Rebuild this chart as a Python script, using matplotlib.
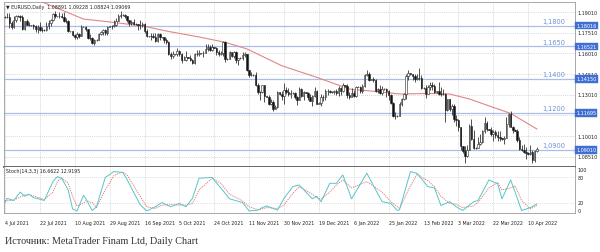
import matplotlib.pyplot as plt
from matplotlib.transforms import blended_transform_factory

# daily EURUSD bars (Sun..Fri), one line = one week
opens = [
    1.1865, 1.1866, 1.1868, 1.1824, 1.1790, 1.1843,
    1.1875, 1.1872, 1.1862, 1.1777, 1.1837, 1.1810,
    1.1806, 1.1805, 1.1800, 1.1780, 1.1795, 1.1771,
    1.1771, 1.1772, 1.1800, 1.1820, 1.1844, 1.1886,
    1.1869, 1.1870, 1.1870, 1.1868, 1.1835, 1.1833,
    1.1762, 1.1760, 1.1735, 1.1718, 1.1740, 1.1730,
    1.1795, 1.1793, 1.1778, 1.1710, 1.1711, 1.1675,
    1.1698, 1.1700, 1.1745, 1.1755, 1.1772, 1.1750,
    1.1795, 1.1797, 1.1797, 1.1807, 1.1838, 1.1875,
    1.1880, 1.1879, 1.1870, 1.1840, 1.1818, 1.1826,
    1.1813, 1.1812, 1.1805, 1.1804, 1.1816, 1.1762,
    1.1726, 1.1725, 1.1727, 1.1723, 1.1690, 1.1740,
    1.1719, 1.1718, 1.1695, 1.1683, 1.1597, 1.1580,
    1.1595, 1.1593, 1.1620, 1.1597, 1.1555, 1.1552,
    1.1571, 1.1570, 1.1550, 1.1528, 1.1594, 1.1596,
    1.1600, 1.1601, 1.1607, 1.1634, 1.1650, 1.1625,
    1.1644, 1.1643, 1.1608, 1.1598, 1.1602, 1.1682,
    1.1558, 1.1560, 1.1608, 1.1580, 1.1614, 1.1555,
    1.1567, 1.1568, 1.1588, 1.1594, 1.1480, 1.1446,
    1.1445, 1.1444, 1.1368, 1.1319, 1.1320, 1.1370,
    1.1288, 1.1286, 1.1237, 1.1251, 1.1197, 1.1208,
    1.1318, 1.1303, 1.1290, 1.1337, 1.1320, 1.1303,
    1.1314, 1.1312, 1.1284, 1.1266, 1.1342, 1.1291,
    1.1317, 1.1313, 1.1284, 1.1258, 1.1290, 1.1330,
    1.1237, 1.1240, 1.1283, 1.1286, 1.1329, 1.1327,
    1.1322, 1.1320, 1.1326, 1.1310, 1.1350, 1.1325,
    1.1370, 1.1364, 1.1298, 1.1287, 1.1312, 1.1295,
    1.1360, 1.1358, 1.1326, 1.1366, 1.1441, 1.1454,
    1.1411, 1.1413, 1.1407, 1.1326, 1.1342, 1.1310,
    1.1345, 1.1342, 1.1325, 1.1302, 1.1243, 1.1143,
    1.1146, 1.1148, 1.1235, 1.1270, 1.1305, 1.1440,
    1.1455, 1.1450, 1.1440, 1.1416, 1.1422, 1.1425,
    1.1350, 1.1348, 1.1306, 1.1357, 1.1374, 1.1361,
    1.1321, 1.1325, 1.1307, 1.1306, 1.1309, 1.1192,
    1.1269, 1.1200, 1.1218, 1.1122, 1.1118, 1.1065,
    1.0927, 1.0890, 1.0854, 1.0903, 1.1076, 1.0983,
    1.0913, 1.0915, 1.0940, 1.0955, 1.1035, 1.1095,
    1.1050, 1.1048, 1.1016, 1.1031, 1.1005, 1.0997,
    1.0984, 1.0980, 1.0985, 1.1088, 1.1160, 1.1067,
    1.1046, 1.1040, 1.0970, 1.0905, 1.0900, 1.0882,
    1.0876, 1.0870, 1.0888, 1.0830, 1.08891,
]
highs = [
    1.1872, 1.1895, 1.1895, 1.1838, 1.1869, 1.1881,
    1.1880, 1.1880, 1.1880, 1.1838, 1.1849, 1.1830,
    1.1810, 1.1817, 1.1806, 1.1805, 1.1828, 1.1790,
    1.1776, 1.1830, 1.1840, 1.1849, 1.1893, 1.1909,
    1.1875, 1.1900, 1.1893, 1.1900, 1.1855, 1.1840,
    1.1766, 1.1765, 1.1745, 1.1753, 1.1748, 1.1804,
    1.1800, 1.1800, 1.1780, 1.1740, 1.1716, 1.1703,
    1.1703, 1.1752, 1.1765, 1.1775, 1.1780, 1.1802,
    1.1800, 1.1810, 1.1846, 1.1857, 1.1883, 1.1909,
    1.1885, 1.1886, 1.1875, 1.1846, 1.1845, 1.1847,
    1.1818, 1.1817, 1.1845, 1.1831, 1.1821, 1.1775,
    1.1730, 1.1750, 1.1748, 1.1750, 1.1751, 1.1749,
    1.1723, 1.1719, 1.1710, 1.1688, 1.1608, 1.1620,
    1.1599, 1.1640, 1.1624, 1.1603, 1.1580, 1.1616,
    1.1576, 1.1590, 1.1563, 1.1600, 1.1624, 1.1624,
    1.1605, 1.1620, 1.1668, 1.1667, 1.1664, 1.1670,
    1.1648, 1.1645, 1.1624, 1.1620, 1.1692, 1.1692,
    1.1565, 1.1616, 1.1614, 1.1616, 1.1617, 1.1570,
    1.1572, 1.1609, 1.1608, 1.1594, 1.1483, 1.1464,
    1.1450, 1.1464, 1.1385, 1.1331, 1.1374, 1.1372,
    1.1292, 1.1299, 1.1270, 1.1264, 1.1229, 1.1325,
    1.1322, 1.1325, 1.1383, 1.1360, 1.1353, 1.1334,
    1.1318, 1.1320, 1.1293, 1.1355, 1.1352, 1.1326,
    1.1320, 1.1323, 1.1306, 1.1296, 1.1360, 1.1335,
    1.1245, 1.1305, 1.1302, 1.1345, 1.1341, 1.1336,
    1.1326, 1.1335, 1.1342, 1.1365, 1.1355, 1.1386,
    1.1374, 1.1376, 1.1322, 1.1346, 1.1332, 1.1365,
    1.1365, 1.1364, 1.1378, 1.1451, 1.1482, 1.1465,
    1.1416, 1.1430, 1.1415, 1.1351, 1.1369, 1.1364,
    1.1348, 1.1348, 1.1335, 1.1309, 1.1251, 1.1172,
    1.1150, 1.1245, 1.1279, 1.1315, 1.1450, 1.1483,
    1.1460, 1.1452, 1.1451, 1.1448, 1.1495, 1.1442,
    1.1355, 1.1371, 1.1368, 1.1395, 1.1395, 1.1380,
    1.1330, 1.1395, 1.1360, 1.1344, 1.1314, 1.1273,
    1.1270, 1.1237, 1.1233, 1.1153, 1.1124, 1.1068,
    1.0930, 1.0932, 1.0935, 1.1090, 1.1121, 1.1044,
    1.0920, 1.0996, 1.1018, 1.1044, 1.1137, 1.1107,
    1.1055, 1.1069, 1.1047, 1.1044, 1.1037, 1.1035,
    1.0990, 1.0999, 1.1138, 1.1170, 1.1185, 1.1076,
    1.1050, 1.1054, 1.0992, 1.0938, 1.0942, 1.0922,
    1.0882, 1.0935, 1.0903, 1.0899, 1.09228,
]
lows = [
    1.1860, 1.1855, 1.1782, 1.1780, 1.1783, 1.1826,
    1.1868, 1.1837, 1.1772, 1.1773, 1.1805, 1.1796,
    1.1800, 1.1776, 1.1753, 1.1752, 1.1760, 1.1757,
    1.1765, 1.1763, 1.1778, 1.1797, 1.1838, 1.1860,
    1.1864, 1.1860, 1.1856, 1.1831, 1.1820, 1.1753,
    1.1755, 1.1729, 1.1706, 1.1705, 1.1713, 1.1727,
    1.1790, 1.1762, 1.1706, 1.1695, 1.1666, 1.1664,
    1.1694, 1.1695, 1.1735, 1.1737, 1.1735, 1.1735,
    1.1791, 1.1780, 1.1795, 1.1802, 1.1835, 1.1859,
    1.1875, 1.1857, 1.1827, 1.1802, 1.1806, 1.1807,
    1.1808, 1.1770, 1.1780, 1.1791, 1.1746, 1.1716,
    1.1720, 1.1701, 1.1715, 1.1684, 1.1686, 1.1701,
    1.1713, 1.1676, 1.1667, 1.1590, 1.1563, 1.1570,
    1.1590, 1.1580, 1.1580, 1.1529, 1.1550, 1.1545,
    1.1566, 1.1545, 1.1524, 1.1524, 1.1585, 1.1584,
    1.1595, 1.1571, 1.1600, 1.1619, 1.1619, 1.1615,
    1.1638, 1.1590, 1.1585, 1.1586, 1.1585, 1.1535,
    1.1555, 1.1557, 1.1575, 1.1570, 1.1528, 1.1513,
    1.1562, 1.1555, 1.1573, 1.1474, 1.1432, 1.1433,
    1.1440, 1.1365, 1.1309, 1.1263, 1.1310, 1.1250,
    1.1282, 1.1225, 1.1225, 1.1186, 1.1195, 1.1205,
    1.1300, 1.1260, 1.1235, 1.1305, 1.1290, 1.1277,
    1.1308, 1.1270, 1.1227, 1.1262, 1.1284, 1.1262,
    1.1310, 1.1265, 1.1252, 1.1222, 1.1284, 1.1236,
    1.1232, 1.1222, 1.1258, 1.1263, 1.1300, 1.1312,
    1.1316, 1.1307, 1.1297, 1.1290, 1.1300, 1.1322,
    1.1360, 1.1280, 1.1272, 1.1285, 1.1285, 1.1286,
    1.1355, 1.1313, 1.1316, 1.1356, 1.1438, 1.1400,
    1.1405, 1.1393, 1.1318, 1.1315, 1.1305, 1.1300,
    1.1338, 1.1286, 1.1265, 1.1235, 1.1136, 1.1121,
    1.1140, 1.1144, 1.1219, 1.1260, 1.1268, 1.1410,
    1.1445, 1.1410, 1.1396, 1.1410, 1.1410, 1.1345,
    1.1340, 1.1280, 1.1304, 1.1337, 1.1338, 1.1310,
    1.1315, 1.1298, 1.1288, 1.1300, 1.1106, 1.1185,
    1.1180, 1.1155, 1.1100, 1.1075, 1.1038, 1.0900,
    1.0880, 1.0806, 1.0850, 1.0900, 1.0974, 1.0910,
    1.0905, 1.0915, 1.0935, 1.0951, 1.1022, 1.1036,
    1.1045, 1.1001, 1.0963, 1.0990, 1.0965, 1.0965,
    1.0975, 1.0945, 1.0985, 1.1070, 1.1066, 1.1026,
    1.1035, 1.0957, 1.0898, 1.0895, 1.0878, 1.0836,
    1.0866, 1.0866, 1.0808, 1.0816, 1.08824,
]
closes = [
    1.1866, 1.1868, 1.1824, 1.1790, 1.1843, 1.1875,
    1.1872, 1.1862, 1.1777, 1.1837, 1.1810, 1.1806,
    1.1805, 1.1800, 1.1780, 1.1795, 1.1771, 1.1771,
    1.1772, 1.1800, 1.1820, 1.1844, 1.1886, 1.1869,
    1.1870, 1.1870, 1.1868, 1.1835, 1.1833, 1.1762,
    1.1760, 1.1735, 1.1718, 1.1740, 1.1730, 1.1795,
    1.1793, 1.1778, 1.1710, 1.1711, 1.1675, 1.1698,
    1.1700, 1.1745, 1.1755, 1.1772, 1.1750, 1.1795,
    1.1797, 1.1797, 1.1807, 1.1838, 1.1875, 1.1880,
    1.1879, 1.1870, 1.1840, 1.1818, 1.1826, 1.1813,
    1.1812, 1.1805, 1.1804, 1.1816, 1.1762, 1.1726,
    1.1725, 1.1727, 1.1723, 1.1690, 1.1740, 1.1719,
    1.1718, 1.1695, 1.1683, 1.1597, 1.1580, 1.1595,
    1.1593, 1.1620, 1.1597, 1.1555, 1.1552, 1.1571,
    1.1570, 1.1550, 1.1528, 1.1594, 1.1596, 1.1600,
    1.1601, 1.1607, 1.1634, 1.1650, 1.1625, 1.1644,
    1.1643, 1.1608, 1.1598, 1.1602, 1.1682, 1.1558,
    1.1560, 1.1608, 1.1580, 1.1614, 1.1555, 1.1567,
    1.1568, 1.1588, 1.1594, 1.1480, 1.1446, 1.1445,
    1.1444, 1.1368, 1.1319, 1.1320, 1.1370, 1.1288,
    1.1286, 1.1237, 1.1251, 1.1197, 1.1208, 1.1318,
    1.1303, 1.1290, 1.1337, 1.1320, 1.1303, 1.1314,
    1.1312, 1.1284, 1.1266, 1.1342, 1.1291, 1.1317,
    1.1313, 1.1284, 1.1258, 1.1290, 1.1330, 1.1237,
    1.1240, 1.1283, 1.1286, 1.1329, 1.1327, 1.1322,
    1.1320, 1.1326, 1.1310, 1.1350, 1.1325, 1.1370,
    1.1364, 1.1298, 1.1287, 1.1312, 1.1295, 1.1360,
    1.1358, 1.1326, 1.1366, 1.1441, 1.1454, 1.1411,
    1.1413, 1.1407, 1.1326, 1.1342, 1.1310, 1.1345,
    1.1342, 1.1325, 1.1302, 1.1243, 1.1143, 1.1146,
    1.1148, 1.1235, 1.1270, 1.1305, 1.1440, 1.1455,
    1.1450, 1.1440, 1.1416, 1.1422, 1.1425, 1.1350,
    1.1348, 1.1306, 1.1357, 1.1374, 1.1361, 1.1321,
    1.1325, 1.1307, 1.1306, 1.1309, 1.1192, 1.1269,
    1.1200, 1.1218, 1.1122, 1.1118, 1.1065, 1.0927,
    1.0890, 1.0854, 1.0903, 1.1076, 1.0983, 1.0913,
    1.0915, 1.0940, 1.0955, 1.1035, 1.1095, 1.1050,
    1.1048, 1.1016, 1.1031, 1.1005, 1.0997, 1.0984,
    1.0980, 1.0985, 1.1088, 1.1160, 1.1067, 1.1046,
    1.1040, 1.0970, 1.0905, 1.0900, 1.0882, 1.0876,
    1.0870, 1.0888, 1.0830, 1.0889, 1.09069,
]

# red moving average (bar index, price)
ma_bars = [10, 17, 36, 48, 63, 75, 89, 101, 111, 127, 143, 158, 173, 181, 195, 204, 213, 222, 232, 244]
ma_values = [1.2020, 1.1974, 1.1850, 1.1829, 1.1800, 1.1760, 1.1720, 1.1681, 1.1633, 1.1511,
             1.1427, 1.1342, 1.1320, 1.1306, 1.1310, 1.1306, 1.1270, 1.1220, 1.1165, 1.1052]

# stochastic (14,3,3)
stoch_bars = [0, 1, 4, 7, 9, 11, 13, 16, 18, 22, 24, 26, 29, 31, 33, 36, 37, 40, 42, 46,
              50, 54, 56, 62, 65, 69, 72, 76, 80, 83, 86, 89, 95, 99, 103, 109, 112, 116, 118, 120,
              125, 128, 132, 135, 141, 143, 145, 149, 152, 155, 159, 166, 173, 177, 180, 181, 186, 189, 194, 197,
              200, 204, 207, 210, 215, 217, 222, 226, 228, 232, 234, 237, 241, 244]
stoch_main = [20, 30, 25, 45, 35, 40, 32, 28, 25, 70, 82, 78, 50, 5, 0, 37, 30, 1, 10, 80,
              94, 92, 75, 15, 0, 10, 20, 10, 18, 10, 30, 78, 80, 55, 29, 20, 0, 2, 8, 12,
              2, 30, 58, 62, 29, 35, 22, 66, 66, 86, 29, 90, 22, 18, 1, 3, 94, 90, 58, 55,
              13, 22, 10, 1, 22, 25, 74, 65, 29, 74, 45, 1, 8, 16.66]
stoch_signal = [25, 24, 26, 33, 38, 39, 36, 31, 27, 45, 70, 79, 66, 35, 12, 18, 24, 20, 8, 50,
                85, 93, 86, 35, 10, 6, 14, 15, 14, 14, 18, 50, 78, 66, 40, 24, 10, 3, 5, 8,
                6, 14, 42, 58, 40, 32, 28, 45, 62, 74, 55, 70, 45, 22, 10, 6, 60, 88, 72, 58,
                35, 18, 16, 8, 12, 20, 55, 68, 50, 55, 60, 25, 5, 12.92]

tick_labels = ["4 Jul 2021", "22 Jul 2021", "10 Aug 2021", "29 Aug 2021", "16 Sep 2021",
               "5 Oct 2021", "24 Oct 2021", "11 Nov 2021", "30 Nov 2021", "19 Dec 2021",
               "6 Jan 2022", "25 Jan 2022", "13 Feb 2022", "3 Mar 2022", "22 Mar 2022", "10 Apr 2022"]
bars_per_label = 16

# right-axis scale labels (1.11510 sits under the 1.11695 marker and is not visible)
price_grid = [1.08510, 1.10010, 1.11510, 1.13010, 1.14510, 1.16010, 1.17510, 1.19010]
price_labels = ["1.08510", "1.10010", "", "1.13010", "1.14510", "1.16010", "1.17510", "1.19010"]
level_values = [1.18016, 1.16521, 1.14150, 1.11695, 1.09010]
level_texts = ["1,1800", "1,1650", "1,1400", "1,1200", "1,0900"]

W, H = 600, 253
fig = plt.figure(figsize=(6, 2.53), dpi=100)
fig.patch.set_facecolor("white")

ax = fig.add_axes([4 / W, 1 - 168 / H, 571 / W, 165 / H])
ax2 = fig.add_axes([4 / W, 1 - 214 / H, 571 / W, 46 / H])

xmin, xmax = -0.46, 261.5
tick_pos = [i * bars_per_label for i in range(len(tick_labels))]
grid_kw = dict(color="#cacaca", lw=0.5, ls=(0, (1.5, 1.5)), zorder=0)

# --- price panel ---
ax.set_xlim(xmin, xmax)
ax.set_ylim(1.07762, 1.19736)
for p in price_grid:
    ax.axhline(p, **grid_kw)
for t in tick_pos:
    ax.axvline(t, **grid_kw)
    ax2.axvline(t, **grid_kw)

for v in level_values:
    ax.axhline(v, color="#a9bfeb", lw=0.9, zorder=1)

for i in range(len(closes)):
    o, hi, lo, c = opens[i], highs[i], lows[i], closes[i]
    ax.vlines(i, lo, hi, color="#222222", lw=0.55, zorder=3)
    body = max(abs(c - o), 0.00012)
    face = "white" if c >= o else "#111111"
    ax.bar(i, body, bottom=min(o, c), width=0.7, color=face, edgecolor="#222222",
           linewidth=0.4, zorder=4)

ax.plot(ma_bars, ma_values, color="#e38585", lw=0.8, zorder=2)

for v, s in zip(level_values, level_texts):
    ax.annotate(s, xy=(257, v), xytext=(0, 1.2), textcoords="offset points",
                ha="right", va="bottom", fontsize=4.8, color="#6f91d9", zorder=5)

tr = blended_transform_factory(ax.transAxes, ax.transData)
for p, s in zip(price_grid, price_labels):
    if s:
        ax.text(1.004, p, s, transform=tr, fontsize=3.5, color="#222222",
                va="center", ha="left", zorder=5)
for v in level_values:
    ax.text(1.002, v, f"{v:.5f}", transform=tr, fontsize=3.5, color="white",
            va="center", ha="left", zorder=6,
            bbox=dict(boxstyle="square,pad=0.25", fc="#3f6fd3", ec="#3f6fd3", lw=0.3))

ax.text(0.004, 0.985, "\u25bc EURUSD,Daily  1.08891 1.09228 1.08824 1.09069",
        transform=ax.transAxes, fontsize=3.4, color="#222222", va="top", ha="left")

ax.set_xticks([])
ax.set_yticks([])
for side in ["top", "left", "right"]:
    ax.spines[side].set_color("#9a9a9a")
    ax.spines[side].set_linewidth(0.6)
ax.spines["bottom"].set_color("#5a5a5a")
ax.spines["bottom"].set_linewidth(1.3)

# --- stochastic panel ---
ax2.set_xlim(xmin, xmax)
ax2.set_ylim(-4.9, 104.9)
for lvl in [20, 80]:
    ax2.axhline(lvl, color="#d4d4d4", lw=0.5, ls=(0, (1.5, 1.5)), zorder=0)
ax2.plot(stoch_bars, stoch_main, color="#56c6c6", lw=0.7, zorder=3)
ax2.plot(stoch_bars, stoch_signal, color="#e06a6a", lw=0.6, ls=(0, (1.5, 1.2)), zorder=2)

tr2 = blended_transform_factory(ax2.transAxes, ax2.transData)
for v, s in [(100, "100"), (80, "80"), (20, "20"), (0, "0")]:
    ax2.text(1.004, v, s, transform=tr2, fontsize=3.5, color="#222222",
             va="center", ha="left")
ax2.text(0.004, 0.97, "Stoch(14,3,3) 16.6622 12.9195", transform=ax2.transAxes,
         fontsize=3.4, color="#222222", va="top", ha="left")

ax2.set_yticks([])
ax2.set_xticks(tick_pos)
ax2.set_xticklabels(tick_labels, fontsize=3.4, ha="left")
ax2.tick_params(axis="x", length=0, pad=5, colors="#222222")
for side in ["top", "left", "right", "bottom"]:
    ax2.spines[side].set_color("#9a9a9a")
    ax2.spines[side].set_linewidth(0.6)
ax2.spines["top"].set_visible(False)

fig.text(5 / W, 1 - 241 / H, "Источник: MetaTrader Finam Ltd, Daily Chart",
         fontsize=7.3, family="Liberation Serif", color="#333333", va="center", ha="left")

fig.savefig("out.png", dpi=100, facecolor="white")
